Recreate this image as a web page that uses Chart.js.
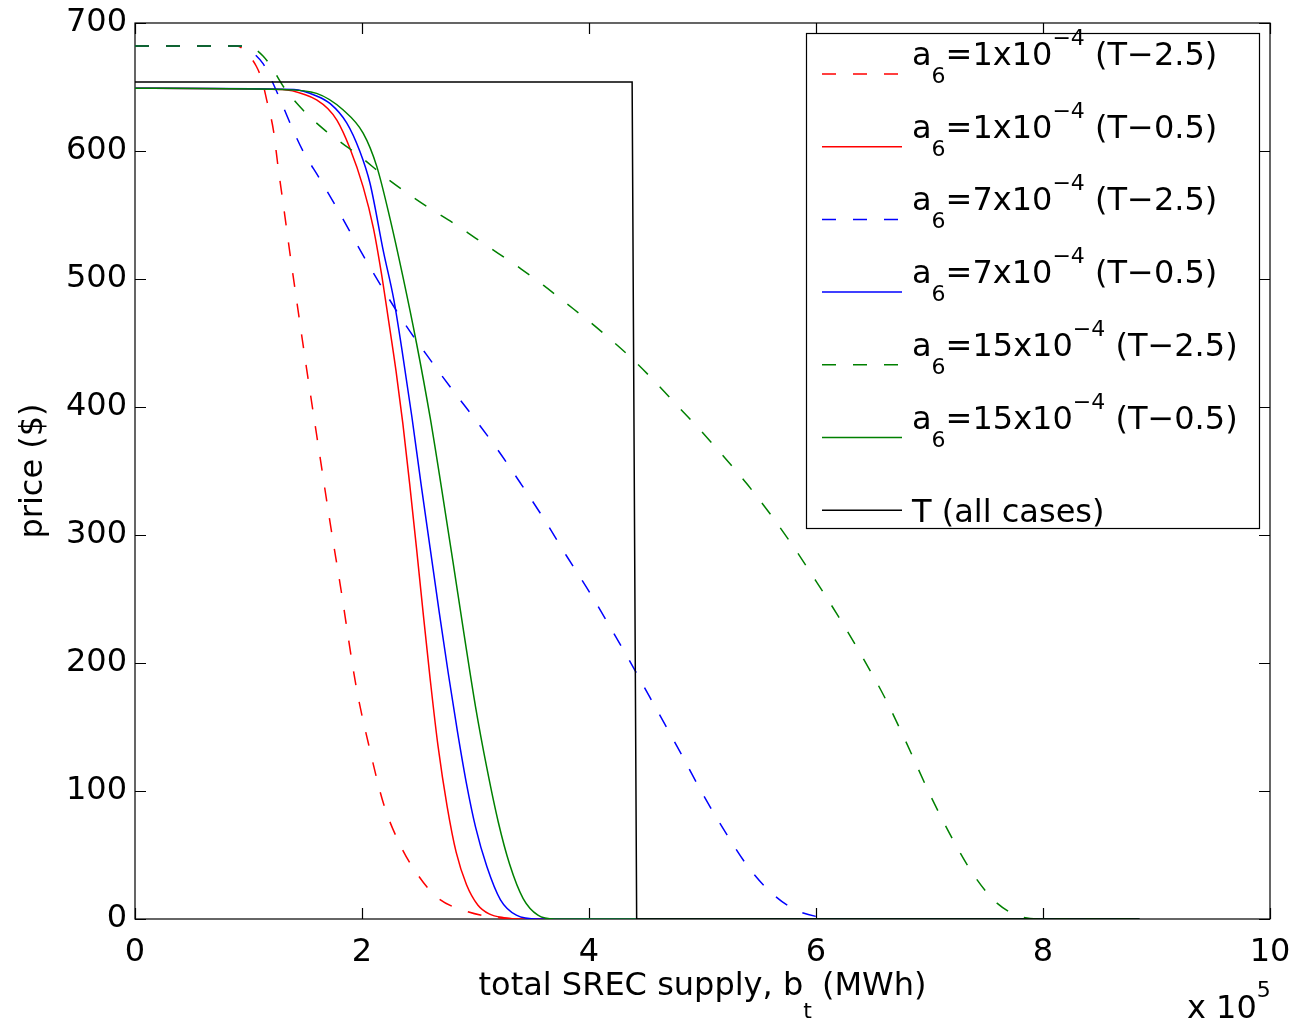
<!DOCTYPE html>
<html>
<head>
<meta charset="utf-8">
<script src="https://cdn.jsdelivr.net/npm/chart.js@4.4.1/dist/chart.umd.min.js"></script>
<style>
body { margin: 0; background: #fff; }
</style>
</head>
<body>
<canvas id="chart1" width="1295" height="1023"></canvas>
<script>
var FONT = '"DejaVu Sans", "Liberation Sans", Arial, sans-serif';

// x in units of 1e5 MWh, y in $
var xTicks = [0, 2, 4, 6, 8, 10];
var yTicks = [0, 100, 200, 300, 400, 500, 600, 700];

var redDashX = [0, 0.9, 0.98, 1.07, 1.12, 1.16, 1.22, 1.26, 1.31, 1.37, 1.51, 1.63, 1.72, 1.81, 1.95, 2.07, 2.19, 2.33, 2.48, 2.66, 2.92, 3.2, 3.5, 8.85];
var redDashY = [682, 682, 677, 666, 655, 640, 616, 588, 556, 517, 431, 361, 309, 260, 181, 132, 90, 59, 36, 17, 6, 1, 0, 0];

var redSolidX = [0, 1.3, 1.5, 1.6, 1.7, 1.78, 1.89, 2.01, 2.10, 2.17, 2.23, 2.30, 2.36, 2.42, 2.48, 2.54, 2.60, 2.67, 2.75, 2.83, 2.92, 3.02, 3.12, 3.25, 3.4, 8.85];
var redSolidY = [649, 648, 644, 640, 633, 624, 603, 572, 540, 505, 470, 428, 387, 340, 290, 238, 188, 135, 88, 52, 27, 11, 4, 1, 0, 0];

var blueDashX = [0, 0.95, 1.05, 1.13, 1.2, 1.28, 1.37, 1.48, 1.63, 1.8, 2.0, 2.2, 2.4, 2.6, 2.8, 3.0, 3.2, 3.4, 3.6, 3.8, 4.0, 4.2, 4.4, 4.6, 4.8, 5.0, 5.2, 5.4, 5.6, 5.8, 6.0, 6.2, 8.85];
var blueDashY = [682, 682, 676, 668, 656, 640, 621, 600, 578, 552, 520, 490, 462, 437, 413, 390, 366, 340, 313, 284, 256, 226, 195, 163, 131, 98, 68, 41, 21, 8, 2, 0, 0];

var blueSolidX = [0, 1.4, 1.6, 1.72, 1.865, 1.98, 2.07, 2.19, 2.28, 2.36, 2.44, 2.52, 2.60, 2.68, 2.76, 2.84, 2.92, 3.00, 3.10, 3.22, 3.36, 3.55, 8.85];
var blueSolidY = [649, 648, 643, 637, 622, 600, 575, 521, 484, 440, 392, 340, 290, 240, 192, 147, 106, 72, 41, 15, 3, 0, 0];

var greenDashX = [0, 0.95, 1.05, 1.13, 1.2, 1.31, 1.48, 1.69, 1.98, 2.2, 2.4, 2.6, 2.8, 3.0, 3.2, 3.4, 3.6, 3.8, 4.0, 4.2, 4.4, 4.6, 4.8, 5.0, 5.2, 5.4, 5.6, 5.8, 6.0, 6.2, 6.4, 6.6, 6.8, 7.0, 7.2, 7.4, 7.6, 7.8, 7.95, 8.85];
var greenDashY = [682, 682, 680, 674, 666, 650, 632, 615, 596, 580, 567, 555, 544, 532, 520, 508, 495, 481, 467, 452, 436, 418, 399, 380, 360, 339, 316, 291, 264, 236, 206, 174, 137, 98, 63, 33, 12, 2, 0, 0];

var greenSolidX = [0, 1.3, 1.6, 1.835, 2.01, 2.13, 2.25, 2.36, 2.48, 2.60, 2.70, 2.80, 2.90, 3.00, 3.10, 3.20, 3.30, 3.42, 3.55, 3.7, 8.85];
var greenSolidY = [649, 648, 645, 632, 614, 588, 546, 502, 450, 392, 337, 280, 222, 166, 118, 76, 43, 16, 3, 0, 0];

var tX = [0, 4.38, 4.42, 8.85];
var tY = [654, 654, 0, 0];

var legendEntries = [
    { color: "#ff0000", dash: true,  parts: [["a", 0], ["6", -1], ["=1x10", 0], ["\u22124", 1], [" (T\u22122.5)", 0]] },
    { color: "#ff0000", dash: false, parts: [["a", 0], ["6", -1], ["=1x10", 0], ["\u22124", 1], [" (T\u22120.5)", 0]] },
    { color: "#0000ff", dash: true,  parts: [["a", 0], ["6", -1], ["=7x10", 0], ["\u22124", 1], [" (T\u22122.5)", 0]] },
    { color: "#0000ff", dash: false, parts: [["a", 0], ["6", -1], ["=7x10", 0], ["\u22124", 1], [" (T\u22120.5)", 0]] },
    { color: "#008000", dash: true,  parts: [["a", 0], ["6", -1], ["=15x10", 0], ["\u22124", 1], [" (T\u22122.5)", 0]] },
    { color: "#008000", dash: false, parts: [["a", 0], ["6", -1], ["=15x10", 0], ["\u22124", 1], [" (T\u22120.5)", 0]] },
    { color: "#000000", dash: false, parts: [["T (all cases)", 0]] }
];

var DASH = [14, 17];

function pts(xs, ys) {
    return xs.map(function (x, i) { return { x: x, y: ys[i] }; });
}

function curve(xs, ys, color, dashed, ord) {
    return {
        data: pts(xs, ys),
        borderColor: color,
        borderWidth: 1.5,
        borderDash: dashed ? DASH : [],
        cubicInterpolationMode: "monotone",
        pointRadius: 0,
        fill: false,
        order: ord
    };
}

// draws text with sub (-1) / superscript (1) parts
function drawRich(ctx, parts, x, base, big, small, subOff, supOff) {
    parts.forEach(function (p) {
        var lvl = p[1];
        ctx.font = (lvl === 0 ? big : small) + "px " + FONT;
        var y = base + (lvl === -1 ? subOff : (lvl === 1 ? -supOff : 0));
        ctx.fillText(p[0], x, y);
        x += ctx.measureText(p[0]).width;
    });
    return x;
}

function richWidth(ctx, parts, big, small) {
    var w = 0;
    parts.forEach(function (p) {
        ctx.font = (p[1] === 0 ? big : small) + "px " + FONT;
        w += ctx.measureText(p[0]).width;
    });
    return w;
}

var matlabAxes = {
    id: "matlabAxes",
    beforeDatasetsDraw: function (chart) {
        var ctx = chart.ctx, a = chart.chartArea;
        var xs = chart.scales.x, ys = chart.scales.y;
        ctx.save();
        ctx.strokeStyle = "#000";
        ctx.lineWidth = 1.2;
        ctx.strokeRect(a.left, a.top, a.right - a.left, a.bottom - a.top);
        ctx.beginPath();
        xTicks.forEach(function (v) {
            var px = Math.round(xs.getPixelForValue(v)) + 0.5;
            ctx.moveTo(px, a.bottom); ctx.lineTo(px, a.bottom - 11);
            ctx.moveTo(px, a.top); ctx.lineTo(px, a.top + 11);
        });
        yTicks.forEach(function (v) {
            var py = Math.round(ys.getPixelForValue(v)) + 0.5;
            ctx.moveTo(a.left, py); ctx.lineTo(a.left + 11, py);
            ctx.moveTo(a.right, py); ctx.lineTo(a.right - 11, py);
        });
        ctx.stroke();
        ctx.restore();
    },
    afterDraw: function (chart) {
        var ctx = chart.ctx, a = chart.chartArea;
        ctx.save();
        ctx.fillStyle = "#000";
        ctx.textBaseline = "alphabetic";
        ctx.textAlign = "left";

        // x axis title with subscript
        var xt = [["total SREC supply, b", 0], ["t", -1], [" (MWh)", 0]];
        var w = richWidth(ctx, xt, 32, 22);
        drawRich(ctx, xt, (a.left + a.right) / 2 - w / 2, 995, 32, 22, 23, 0);

        // exponent label
        drawRich(ctx, [["x 10", 0], ["5", 1]], 1187, 1018, 32, 22, 0, 21);

        // legend
        var lx = 806, ly = 33, lw = 453, lh = 495;
        ctx.fillStyle = "#fff";
        ctx.fillRect(lx, ly, lw, lh);
        ctx.strokeStyle = "#000";
        ctx.lineWidth = 1.2;
        ctx.strokeRect(lx + 0.5, ly + 0.5, lw, lh);
        legendEntries.forEach(function (e, i) {
            var yLine = 74 + i * 72.7;
            ctx.beginPath();
            ctx.strokeStyle = e.color;
            ctx.lineWidth = 1.5;
            ctx.setLineDash(e.dash ? DASH : []);
            ctx.moveTo(822, yLine);
            ctx.lineTo(902, yLine);
            ctx.stroke();
            ctx.setLineDash([]);
            ctx.fillStyle = "#000";
            var base = e.parts.length > 1 ? yLine - 9 : yLine + 12;
            drawRich(ctx, e.parts, 912, base, 32, 22, 18, 20);
        });
        ctx.restore();
    }
};

var chart = new Chart(document.getElementById("chart1"), {
    type: "line",
    data: {
        datasets: [
            curve(redDashX, redDashY, "#ff0000", true, 10),
            curve(redSolidX, redSolidY, "#ff0000", false, 9),
            curve(blueDashX, blueDashY, "#0000ff", true, 8),
            curve(blueSolidX, blueSolidY, "#0000ff", false, 7),
            curve(greenDashX, greenDashY, "#008000", true, 6),
            curve(greenSolidX, greenSolidY, "#008000", false, 5),
            { data: pts(tX, tY), borderColor: "#000", borderWidth: 1.5, pointRadius: 0, tension: 0, fill: false, order: 4 }
        ]
    },
    options: {
        responsive: false,
        animation: false,
        layout: { padding: { top: 23, right: 25, left: 0, bottom: 0 } },
        plugins: { legend: { display: false }, tooltip: { enabled: false } },
        scales: {
            x: {
                type: "linear",
                min: 0,
                max: 10,
                afterFit: function (s) { s.height = 104; s.paddingLeft = 0; s.paddingRight = 0; },
                afterBuildTicks: function (s) { s.ticks = xTicks.map(function (v) { return { value: v }; }); },
                grid: { display: false, drawTicks: false },
                border: { display: false },
                ticks: { color: "#000", padding: 14, maxRotation: 0, autoSkip: false, font: { family: FONT, size: 32 } }
            },
            y: {
                type: "linear",
                min: 0,
                max: 700,
                afterFit: function (s) { s.width = 135; s.paddingTop = 0; s.paddingBottom = 0; },
                afterBuildTicks: function (s) { s.ticks = yTicks.map(function (v) { return { value: v }; }); },
                grid: { display: false, drawTicks: false },
                border: { display: false },
                ticks: { color: "#000", padding: 8, font: { family: FONT, size: 32 } },
                title: { display: true, text: "price ($)", color: "#000", padding: { top: 14, bottom: 0 }, font: { family: FONT, size: 32 } }
            }
        }
    },
    plugins: [matlabAxes]
});
</script>
</body>
</html>
